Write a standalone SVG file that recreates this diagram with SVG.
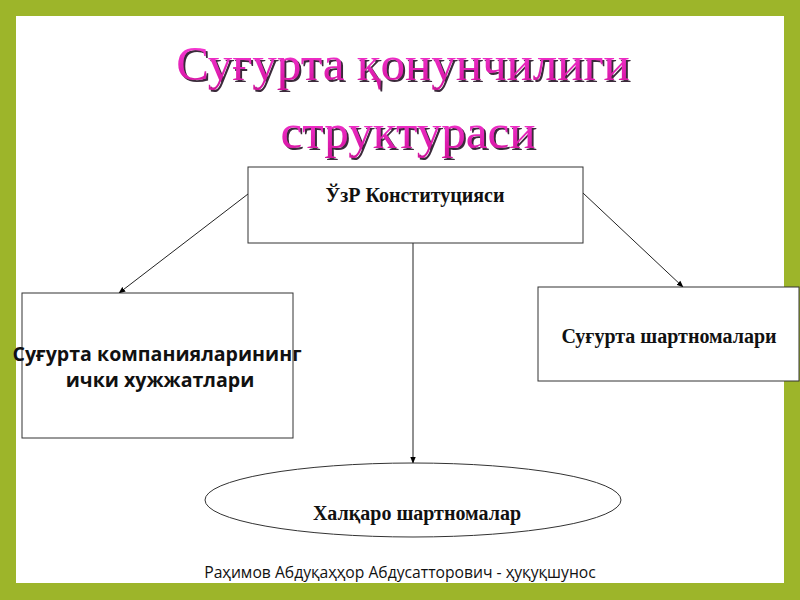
<svg xmlns="http://www.w3.org/2000/svg" width="800" height="600" viewBox="0 0 800 600">
<defs>
<marker id="arr" viewBox="0 0 10 10" refX="9" refY="5" markerWidth="7" markerHeight="7" orient="auto" markerUnits="userSpaceOnUse">
<path d="M0,1 L10,5 L0,9 z" fill="#000"/>
</marker>
<linearGradient id="tg" x1="0" y1="0" x2="0" y2="1">
<stop offset="0" stop-color="#ff40e0"/>
<stop offset="1" stop-color="#d0109a"/>
</linearGradient>
<filter id="sh" x="-5%" y="-20%" width="110%" height="140%">
<feDropShadow dx="2" dy="2" stdDeviation="0.6" flood-color="#3a2a3a" flood-opacity="1"/>
</filter>
</defs>
<style>
.title{font-family:"Liberation Serif","Times New Roman",serif;font-size:49px;text-anchor:middle;fill:url(#tg);filter:url(#sh)}
.box{fill:#fff;stroke:#333;stroke-width:1}
.conn{stroke:#222;stroke-width:1;fill:none;marker-end:url(#arr)}
.lbl{font-family:"Liberation Serif","Times New Roman",serif;font-weight:bold;font-size:20px;text-anchor:middle;fill:#111}
.lbls{font-family:"Open Sans","DejaVu Sans",sans-serif;font-weight:bold;font-size:19.6px;text-anchor:middle;fill:#111}
.foot{font-family:"Open Sans","DejaVu Sans",sans-serif;font-size:15.7px;text-anchor:middle;fill:#111}
</style>
<rect x="0" y="0" width="800" height="600" fill="#9db52a"/>
<rect x="16" y="16" width="768" height="567" fill="#fff"/>
<g id="title">
<text class="title" x="403" y="80">Суғурта қонунчилиги</text>
<text class="title" x="408" y="148">структураси</text>
</g>
<g id="connectors">
<line class="conn" x1="248" y1="194" x2="119" y2="293"/>
<line class="conn" x1="583" y1="193" x2="683" y2="287"/>
<line class="conn" x1="413" y1="243" x2="413" y2="463"/>
</g>
<g id="n-constitution">
<rect class="box" x="248" y="167" width="335" height="76"/>
<text class="lbl" x="415" y="202">ЎзР Конституцияси</text>
</g>
<g id="n-internal">
<rect class="box" x="22" y="293" width="271" height="145"/>
<text class="lbls" x="157" y="360.5">Суғурта компанияларининг</text>
<text class="lbls" x="160" y="387">ички хужжатлари</text>
</g>
<g id="n-contracts">
<rect class="box" x="538" y="287" width="261" height="94"/>
<text class="lbl" x="669" y="343">Суғурта шартномалари</text>
</g>
<g id="n-international">
<ellipse class="box" cx="413" cy="500" rx="208" ry="37"/>
<text class="lbl" x="417" y="520">Халқаро шартномалар</text>
</g>
<text class="foot" x="400" y="578">Раҳимов Абдуқаҳҳор Абдусатторович - ҳуқуқшунос</text>
</svg>
